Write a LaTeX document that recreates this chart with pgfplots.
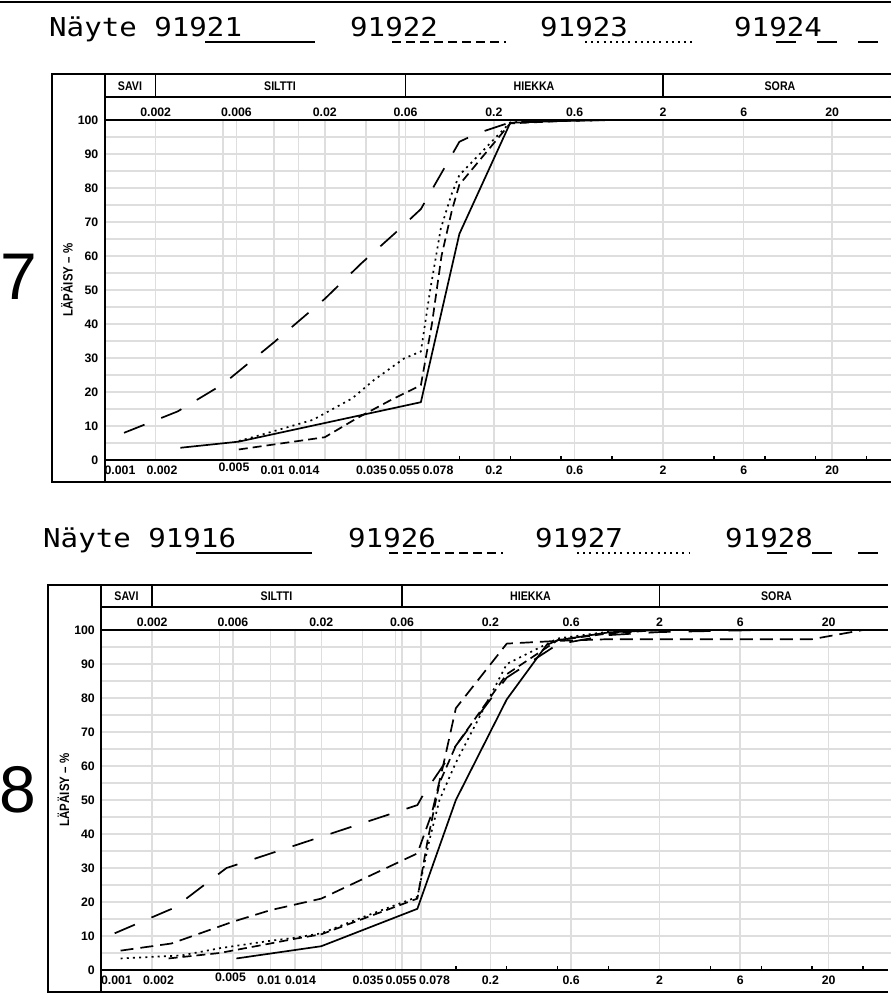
\documentclass[border=0pt]{standalone}
\usepackage{pgfplots}
\pgfplotsset{compat=1.18}
\usepackage{fontspec}
\setmainfont{Liberation Sans}
\newfontfamily\monof[FakeStretch=1.12]{DejaVu Sans Mono}
\newfontfamily\lblf{Liberation Sans}
\newfontfamily\hdrf[FakeStretch=0.85]{Liberation Sans}
\newfontfamily\bigf{Liberation Sans}
\newcommand\lbl{\lblf\bfseries\fontsize{12.3}{13}\selectfont}
\newcommand\hdr{\hdrf\bfseries\fontsize{12.5}{13}\selectfont}
\newcommand\ylab{\hdrf\bfseries\fontsize{13.5}{14}\selectfont}
\newcommand\mono{\monof\fontsize{26}{26}\selectfont}

\tikzset{
  c1/.style={black, line width=1.7pt, line join=round},
  c2/.style={c1, dash pattern=on 9pt off 5pt},
  c3/.style={c1, dash pattern=on 2pt off 4.2pt},
  c4/.style={c1, dash pattern=on 22pt off 18pt},
  c5/.style={c1, dash pattern=on 13pt off 7pt},
}

% frame, class header and labels of one panel (pixel units, y down)
\newcommand\panel[2]{%
\begin{scope}[shift={(#1,#2)}]
  \draw[line width=2pt] (891,74.5) -- (51.5,74.5) -- (51.5,482) -- (891,482);
  \draw[line width=2pt] (104.8,74.5) -- (104.8,482);
  \draw[line width=1.5pt] (104.8,97) -- (891,97);
  \draw[line width=2pt] (104.8,120) -- (891,120);
  \draw[line width=2pt] (104.8,460) -- (891,460);
  \foreach \xx in {155.7,405.5,663} \draw[line width=1.5pt] (\xx,74.5) -- (\xx,97);
  \foreach \xx/\tt in {130/SAVI,280/SILTTI,534/HIEKKA,780/SORA}
    \node[font=\hdr, anchor=base, inner sep=0pt] at (\xx,90.5) {\tt};
  \foreach \xx/\tt in {155.7/0.002,236.4/0.006,324.8/0.02,405.5/0.06,493.9/0.2,574.6/0.6,663/2,743.7/6,832.1/20}
    \node[font=\lbl, anchor=base, inner sep=0pt] at (\xx,116.5) {\tt};
  \foreach \xx/\tt in {120/0.001,162/0.002,272.5/0.01,304/0.014,371.5/0.035,404.5/0.055,438/0.078,493.9/0.2,574.6/0.6,663/2,743.7/6,832.1/20}
    \node[font=\lbl, anchor=base, inner sep=0pt] at (\xx,474) {\tt};
  \node[font=\lbl, anchor=base, inner sep=0pt] at (234,471) {0.005};
  \foreach \yv in {0,10,...,100}
    \node[font=\lbl, anchor=east, inner sep=0pt] at (98.5,{460-3.4*\yv}) {\yv};
  \node[font=\ylab, rotate=90, inner sep=0pt] at (67,280) {LÄPÄISY – \%};
\end{scope}}

\begin{document}
\begin{tikzpicture}[x=1pt,y=-1pt]
\useasboundingbox (0,0) rectangle (891,995);
\clip (0,0) rectangle (891,995);

% ---------- sample 7 ----------
\begin{axis}[at={(104.8pt,-460pt)}, anchor=south west, scale only axis,
    width=786.2pt, height=340pt,
    xmode=log, xmin=0.001, xmax=44.6, ymin=0, ymax=100, clip=false,
    axis line style={draw=none},
    xtick={0.002,0.005,0.006,0.01,0.014,0.02,0.035,0.055,0.06,0.078,0.2,0.6,2,6,20},
    ytick={5,10,...,95}, xticklabels={}, yticklabels={},
    xmajorgrids, ymajorgrids,
    major grid style={line width=1.5pt, black!13},
    major tick length=0pt, tick pos=left, tick style={line width=1.4pt, black},
    extra x ticks={0.125,0.25,0.5,1,4,8,16,32}, extra x tick labels={},
    extra x tick style={grid=none, major tick length=4.5pt, tick align=inside}]
\addplot[c1] coordinates {(0.0028,3.6)(0.0062,5.4)(0.074,17)(0.125,66.5)(0.25,99.2)(0.5,99.7)(1,100)};
\addplot[c2] coordinates {(0.0062,3.1)(0.02,6.7)(0.031,12.3)(0.049,17.6)(0.074,22)(0.086,40)(0.098,60)(0.113,73.5)(0.125,81)(0.25,99)(0.5,99.7)(1,100)};
\addplot[c3] coordinates {(0.0062,5.6)(0.008,7.1)(0.017,11.8)(0.029,18.1)(0.039,23.5)(0.059,29.9)(0.074,31.9)(0.084,50)(0.097,68)(0.112,78)(0.125,83.8)(0.25,99.3)(0.5,100)(4,100)};
\addplot[c4] coordinates {(0.0013,8)(0.0027,14.3)(0.005,22.3)(0.01,34.6)(0.02,47.4)(0.033,57.9)(0.052,66.7)(0.074,73.8)(0.125,93.6)(0.16,96.1)(0.25,99.3)(0.5,100)};
\end{axis}

% ---------- sample 8 ----------
\begin{axis}[at={(101.3pt,-970pt)}, anchor=south west, scale only axis,
    width=789.7pt, height=340pt,
    xmode=log, xmin=0.001, xmax=46.8, ymin=0, ymax=100, clip=false,
    axis line style={draw=none},
    xtick={0.002,0.005,0.006,0.01,0.014,0.02,0.035,0.055,0.06,0.078,0.2,0.6,2,6,20},
    ytick={5,10,...,95}, xticklabels={}, yticklabels={},
    xmajorgrids, ymajorgrids,
    major grid style={line width=1.5pt, black!13},
    major tick length=0pt, tick pos=left, tick style={line width=1.4pt, black},
    extra x ticks={0.125,0.25,0.5,1,4,8,16,32}, extra x tick labels={},
    extra x tick style={grid=none, major tick length=4.5pt, tick align=inside}]
\addplot[c1] coordinates {(0.0063,3.4)(0.02,7)(0.074,18)(0.125,50)(0.25,79.6)(0.43,95.6)(0.5,97)(1,99.3)(2,100)};
\addplot[c2] coordinates {(0.0025,3.4)(0.005,5)(0.01,7.8)(0.014,9.2)(0.02,10.5)(0.035,15)(0.074,21)(0.085,38)(0.1,55)(0.125,66)(0.25,87)(0.5,97)(1,99)(2,100)};
\addplot[c3] coordinates {(0.0013,3.4)(0.003,4.3)(0.005,6.4)(0.01,8.6)(0.014,9.5)(0.02,10.8)(0.035,15.5)(0.074,21.5)(0.087,38)(0.1,50)(0.125,61)(0.25,90)(0.5,97.5)(1,99.5)(2,100)};
\addplot[c4] coordinates {(0.0012,10.8)(0.0027,18.3)(0.0055,30)(0.074,48.5)(0.079,51)(0.108,61)(0.125,66)(0.25,86)(0.5,95.8)(1,98.5)(2,99.4)(8,100)};
\addplot[c5] coordinates {(0.0013,5.7)(0.0026,7.8)(0.006,14.2)(0.01,17.6)(0.02,21)(0.074,34.3)(0.09,46)(0.105,60)(0.125,77)(0.25,96)(0.5,96.8)(1,97.3)(16,97.3)(32,100)};
\end{axis}

\draw[line width=2.5pt] (0,2) -- (891,2);
\panel{0}{0}
\panel{-3.5}{510}

\node[font=\bigf\fontsize{66}{66}\selectfont, inner sep=0pt] at (19,277) {7};
\node[font=\bigf\fontsize{66}{66}\selectfont, inner sep=0pt] at (18,790) {8};

% sample names with line keys
\node[font=\mono, anchor=base west, inner sep=0pt] at (49,37) {Näyte 91921};
\node[font=\mono, anchor=base west, inner sep=0pt] at (350,37) {91922};
\node[font=\mono, anchor=base west, inner sep=0pt] at (540,37) {91923};
\node[font=\mono, anchor=base west, inner sep=0pt] at (734,37) {91924};
\draw[c1] (205,42) -- (315,42);
\draw[c2] (392,42) -- (506,42);
\draw[c3] (585,42) -- (696,42);
\draw[c1] (776,42) -- (796,42) (817,42) -- (837,42) (858,42) -- (878,42);

\node[font=\mono, anchor=base west, inner sep=0pt] at (43,547) {Näyte 91916};
\node[font=\mono, anchor=base west, inner sep=0pt] at (348,547) {91926};
\node[font=\mono, anchor=base west, inner sep=0pt] at (535,547) {91927};
\node[font=\mono, anchor=base west, inner sep=0pt] at (725,547) {91928};
\draw[c1] (196,553) -- (312,553);
\draw[c2] (389,553) -- (503,553);
\draw[c3] (577,553) -- (690,553);
\draw[c1] (767,553) -- (787,553) (812,553) -- (832,553) (858,553) -- (878,553);
\end{tikzpicture}
\end{document}
